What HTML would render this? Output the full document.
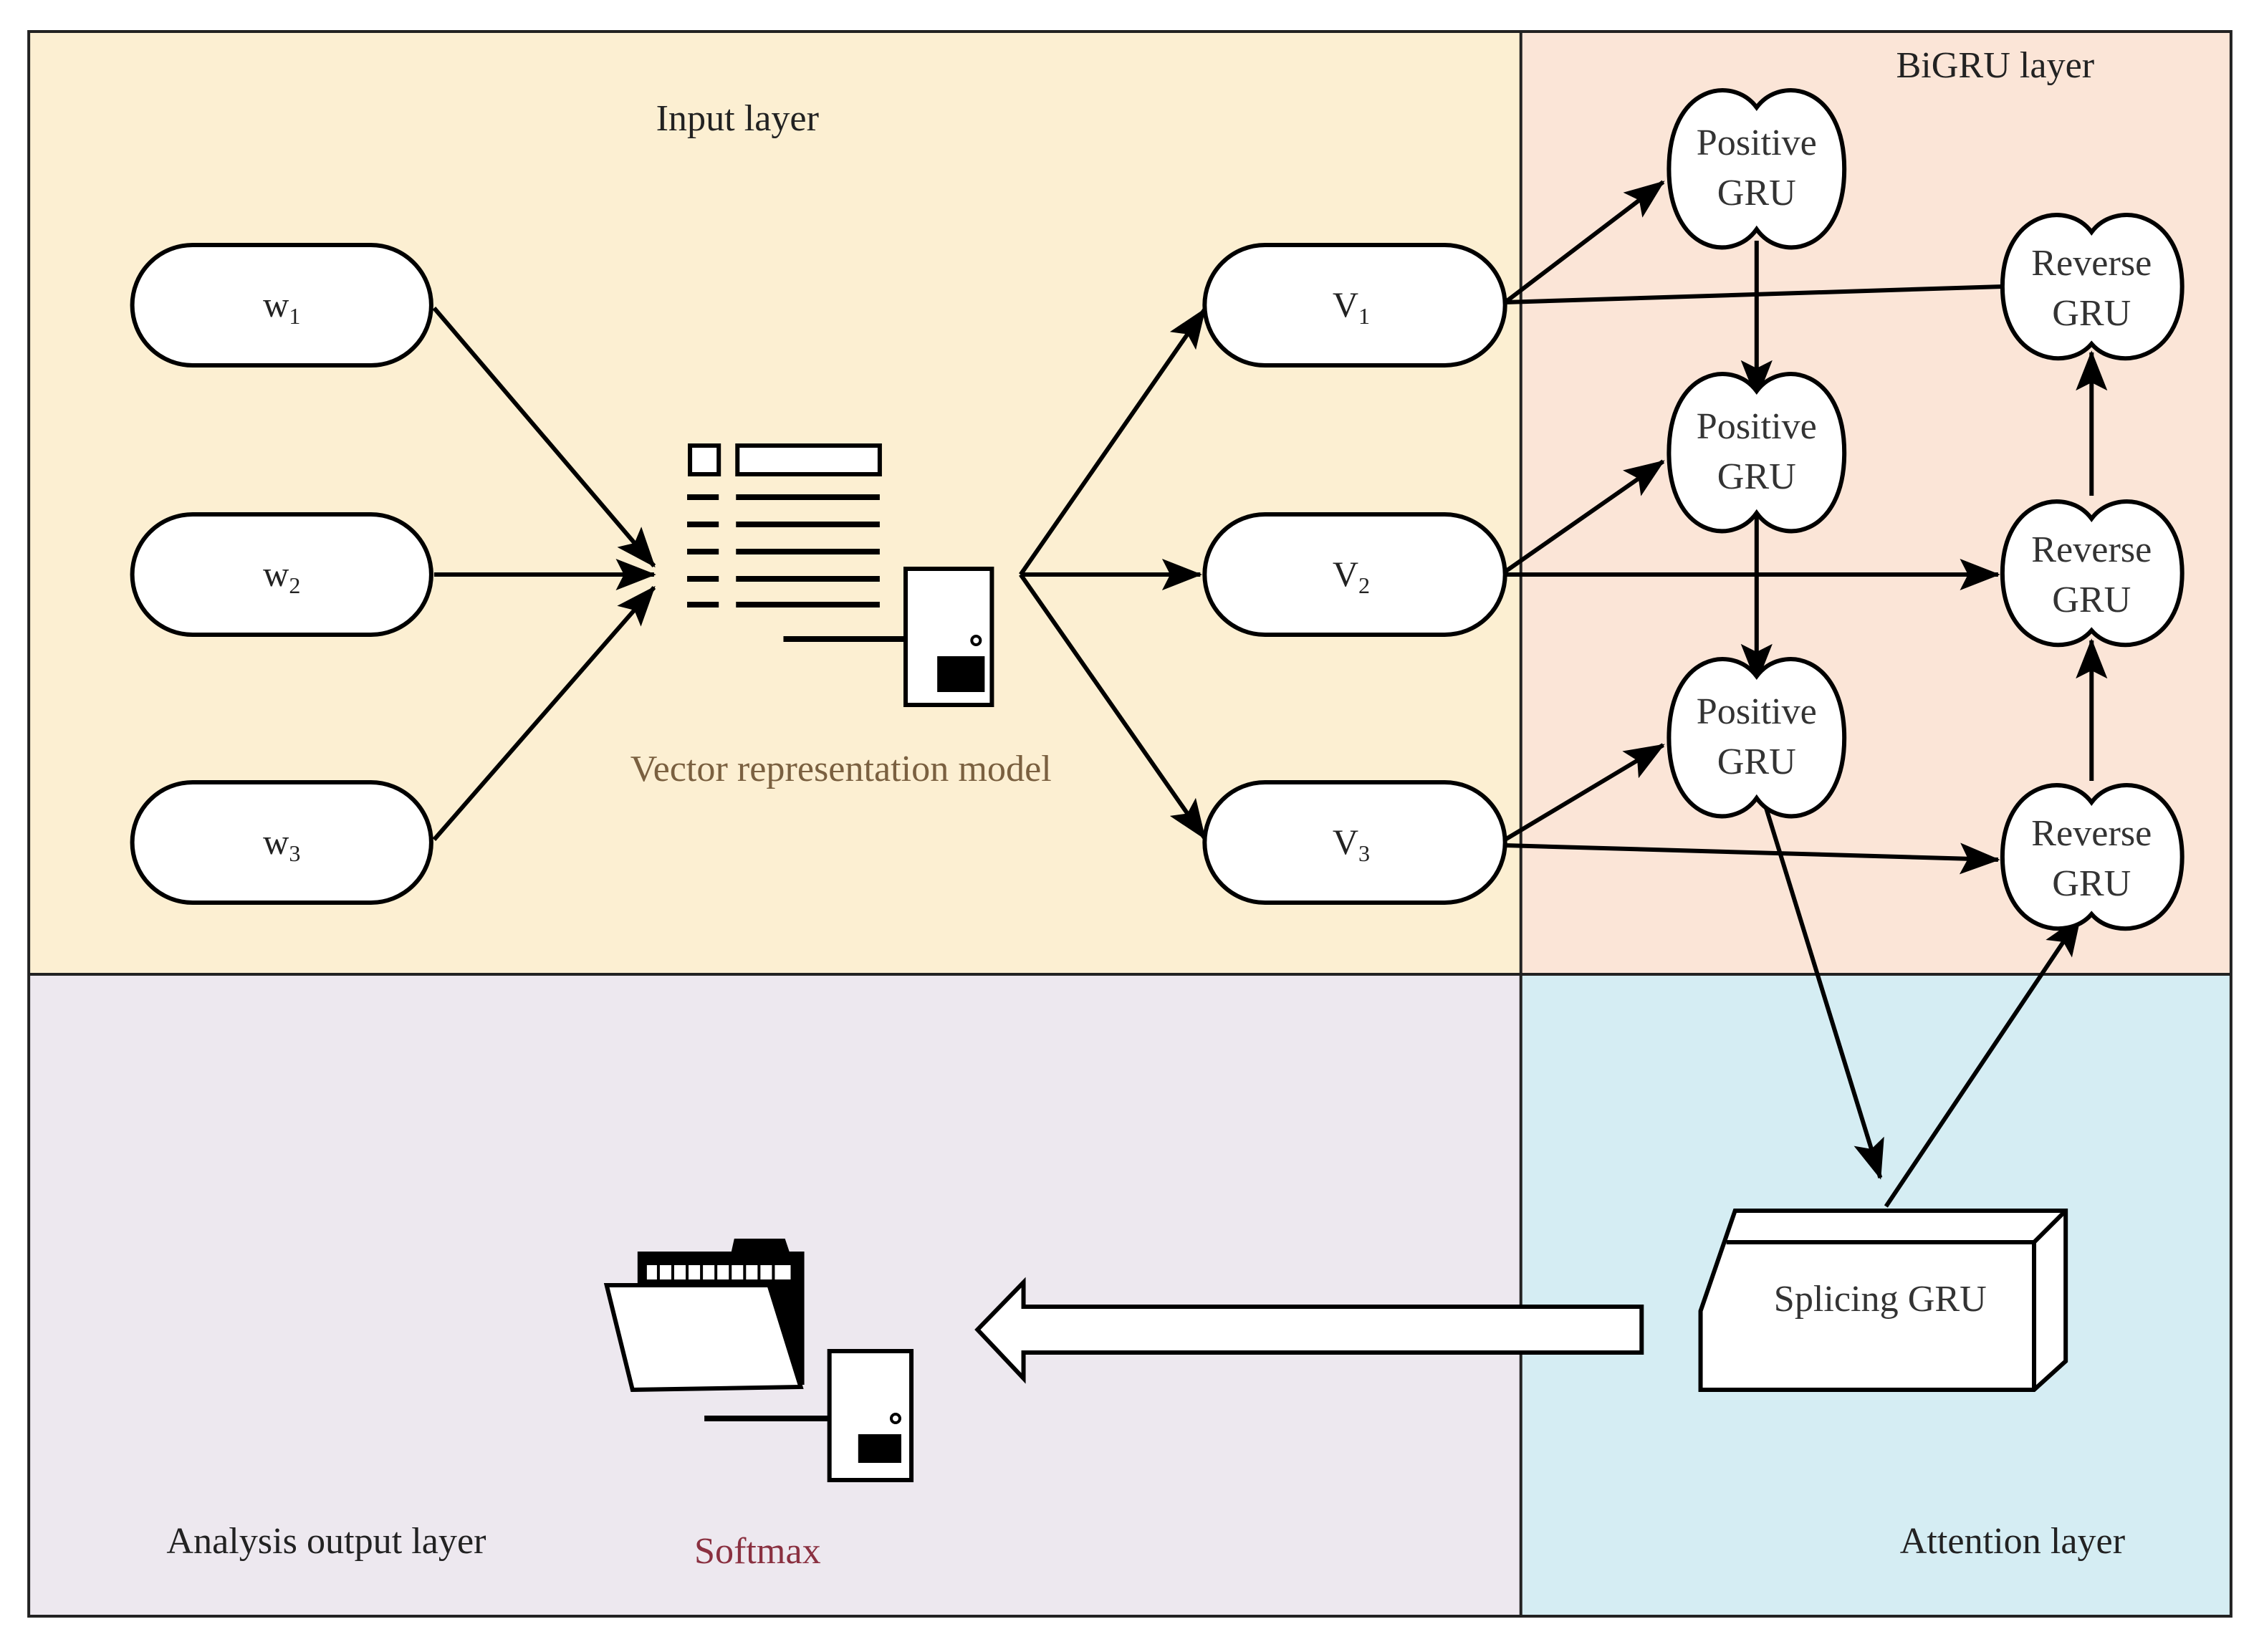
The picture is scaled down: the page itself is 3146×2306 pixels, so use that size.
<!DOCTYPE html>
<html><head><meta charset="utf-8"><style>
html,body{margin:0;padding:0;background:#fff;}
svg{display:block;}
text{font-family:"Liberation Serif",serif;}
</style></head><body>
<svg width="3146" height="2306" viewBox="0 0 1568 1153" preserveAspectRatio="none" xmlns="http://www.w3.org/2000/svg">
<defs>
<marker id="b" viewBox="0 0 10 10" refX="9.5" refY="5" markerWidth="28" markerHeight="22" markerUnits="userSpaceOnUse" orient="auto" preserveAspectRatio="none"><path d="M0,0 L10,5 L0,10 L2,5 z" fill="#000"/></marker>
</defs>
<rect x="0" y="0" width="1568" height="1153" fill="#fff"/>
<rect x="20" y="22" width="1038" height="658" fill="#fcefd2"/>
<rect x="1058" y="22" width="494" height="658" fill="#fbe5d7"/>
<rect x="20" y="680" width="1038" height="448" fill="#ede8ef"/>
<rect x="1058" y="680" width="494" height="448" fill="#d5edf3"/>
<rect x="20" y="22" width="1532" height="1106" fill="none" stroke="#222" stroke-width="2"/>
<line x1="1058" y1="22" x2="1058" y2="1128" stroke="#222" stroke-width="2"/>
<line x1="20" y1="680" x2="1552" y2="680" stroke="#222" stroke-width="2"/>

<g font-size="26" fill="#222" text-anchor="middle">
<text x="513" y="91">Input layer</text>
<text x="1388" y="54">BiGRU layer</text>
<text x="227" y="1084">Analysis output layer</text>
<text x="1400" y="1084">Attention layer</text>
<text x="527" y="1091" fill="#8a3040">Softmax</text>
<text x="585" y="545" fill="#7a6040">Vector representation model</text>
</g>

<g fill="#fff" stroke="#000" stroke-width="3">
<rect x="92" y="171" width="208" height="84" rx="42"/>
<rect x="92" y="359" width="208" height="84" rx="42"/>
<rect x="92" y="546" width="208" height="84" rx="42"/>
<rect x="838" y="171" width="209" height="84" rx="42"/>
<rect x="838" y="359" width="209" height="84" rx="42"/>
<rect x="838" y="546" width="209" height="84" rx="42"/>
</g>
<g font-size="25" fill="#222" text-anchor="middle">
<text x="196" y="221">w<tspan font-size="16" dy="5">1</tspan></text>
<text x="196" y="409">w<tspan font-size="16" dy="5">2</tspan></text>
<text x="196" y="596">w<tspan font-size="16" dy="5">3</tspan></text>
<text x="940" y="221">V<tspan font-size="16" dy="5">1</tspan></text>
<text x="940" y="409">V<tspan font-size="16" dy="5">2</tspan></text>
<text x="940" y="596">V<tspan font-size="16" dy="5">3</tspan></text>
</g>

<g stroke="#000">
<rect x="480" y="311" width="20" height="20" fill="#fff" stroke-width="3"/>
<rect x="513" y="311" width="99" height="20" fill="#fff" stroke-width="3"/>
<g stroke-width="4">
<line x1="478" y1="347" x2="500" y2="347"/><line x1="512" y1="347" x2="612" y2="347"/>
<line x1="478" y1="366" x2="500" y2="366"/><line x1="512" y1="366" x2="612" y2="366"/>
<line x1="478" y1="385" x2="500" y2="385"/><line x1="512" y1="385" x2="612" y2="385"/>
<line x1="478" y1="404" x2="500" y2="404"/><line x1="512" y1="404" x2="612" y2="404"/>
<line x1="478" y1="422" x2="500" y2="422"/><line x1="512" y1="422" x2="612" y2="422"/>
<line x1="545" y1="446" x2="630" y2="446"/>
</g>
<rect x="630" y="397" width="60" height="95" fill="#fff" stroke-width="3"/>
<circle cx="679" cy="447" r="3" fill="#fff" stroke-width="2"/>
<rect x="652" y="458" width="33" height="25" fill="#000" stroke="none"/>
</g>

<g stroke="#000" stroke-width="3" fill="none" marker-end="url(#b)">
<line x1="302" y1="215" x2="455" y2="395"/>
<line x1="302" y1="401" x2="455" y2="401"/>
<line x1="302" y1="586" x2="455" y2="410"/>
<line x1="710" y1="401" x2="838" y2="216"/>
<line x1="710" y1="401" x2="835" y2="401"/>
<line x1="710" y1="401" x2="838" y2="585"/>
<line x1="1047" y1="211" x2="1157" y2="127"/>
<line x1="1047" y1="399" x2="1157" y2="322"/>
<line x1="1047" y1="586" x2="1157" y2="520"/>
<line x1="1047" y1="401" x2="1390" y2="401"/>
<line x1="1047" y1="590" x2="1390" y2="600"/>
<line x1="1222" y1="168" x2="1222" y2="278"/>
<line x1="1222" y1="358" x2="1222" y2="476"/>
<line x1="1455" y1="346" x2="1455" y2="246"/>
<line x1="1455" y1="545" x2="1455" y2="447"/>
<line x1="1228" y1="562" x2="1308" y2="822"/>
<line x1="1312" y1="842" x2="1447" y2="640"/>
</g>
<line x1="1047" y1="211" x2="1393" y2="200" stroke="#000" stroke-width="3"/>

<g fill="#fff" stroke="#000" stroke-width="3">
<path d="M1222,75 C1205,52 1161,60 1161,118 C1161,176 1205,184 1222,160 C1239,184 1283,176 1283,118 C1283,60 1239,52 1222,75 Z"/>
<path d="M1222,273 C1205,250 1161,258 1161,316 C1161,374 1205,382 1222,358 C1239,382 1283,374 1283,316 C1283,258 1239,250 1222,273 Z"/>
<path d="M1222,472 C1205,449 1161,457 1161,515 C1161,573 1205,581 1222,557 C1239,581 1283,573 1283,515 C1283,457 1239,449 1222,472 Z"/>
<path d="M1455,162 C1438,139 1393,148 1393,200 C1393,252 1438,260 1455,240 C1472,260 1518,252 1518,200 C1518,148 1472,139 1455,162 Z"/>
<path d="M1455,362 C1438,339 1393,348 1393,400 C1393,452 1438,460 1455,440 C1472,460 1518,452 1518,400 C1518,348 1472,339 1455,362 Z"/>
<path d="M1455,560 C1438,537 1393,546 1393,598 C1393,650 1438,658 1455,638 C1472,658 1518,650 1518,598 C1518,546 1472,537 1455,560 Z"/>
</g>
<g font-size="26" fill="#333" text-anchor="middle">
<text x="1222" y="108">Positive</text><text x="1222" y="143">GRU</text>
<text x="1222" y="306">Positive</text><text x="1222" y="341">GRU</text>
<text x="1222" y="505">Positive</text><text x="1222" y="540">GRU</text>
<text x="1455" y="192">Reverse</text><text x="1455" y="227">GRU</text>
<text x="1455" y="392">Reverse</text><text x="1455" y="427">GRU</text>
<text x="1455" y="590">Reverse</text><text x="1455" y="625">GRU</text>
</g>

<g fill="#fff" stroke="#000" stroke-width="3" stroke-linejoin="miter">
<path d="M1207,845 L1437,845 L1437,950 L1415,970 L1183,970 L1183,915 Z"/>
<line x1="1201" y1="867" x2="1415" y2="867"/>
<line x1="1415" y1="867" x2="1437" y2="845"/>
<line x1="1415" y1="867" x2="1415" y2="970"/>
</g>
<text x="1308" y="915" font-size="26" fill="#333" text-anchor="middle">Splicing GRU</text>

<path d="M1142,912 L712,912 L712,895 L680,928 L712,962 L712,944 L1142,944 Z" fill="#fff" stroke="#000" stroke-width="3"/>

<g stroke="#000" stroke-width="3">
<path d="M445,875 L510,875 L512,866 L545,866 L548,875 L558,875 L558,965 L445,965 Z" fill="#000"/>
<rect x="450" y="883" width="100" height="10" fill="#fff" stroke="none"/>
<g stroke="#000" stroke-width="2">
<line x1="458" y1="883" x2="458" y2="893"/><line x1="468" y1="883" x2="468" y2="893"/><line x1="478" y1="883" x2="478" y2="893"/><line x1="488" y1="883" x2="488" y2="893"/><line x1="498" y1="883" x2="498" y2="893"/><line x1="508" y1="883" x2="508" y2="893"/><line x1="518" y1="883" x2="518" y2="893"/><line x1="528" y1="883" x2="528" y2="893"/><line x1="538" y1="883" x2="538" y2="893"/>
</g>
<path d="M422,897 L535,897 L557,968 L440,970 Z" fill="#fff"/>
<line x1="490" y1="990" x2="577" y2="990" stroke-width="4"/>
<rect x="577" y="943" width="57" height="90" fill="#fff"/>
<circle cx="623" cy="990" r="3" fill="#fff" stroke-width="2"/>
<rect x="597" y="1001" width="30" height="20" fill="#000" stroke="none"/>
</g>
</svg>
</body></html>
